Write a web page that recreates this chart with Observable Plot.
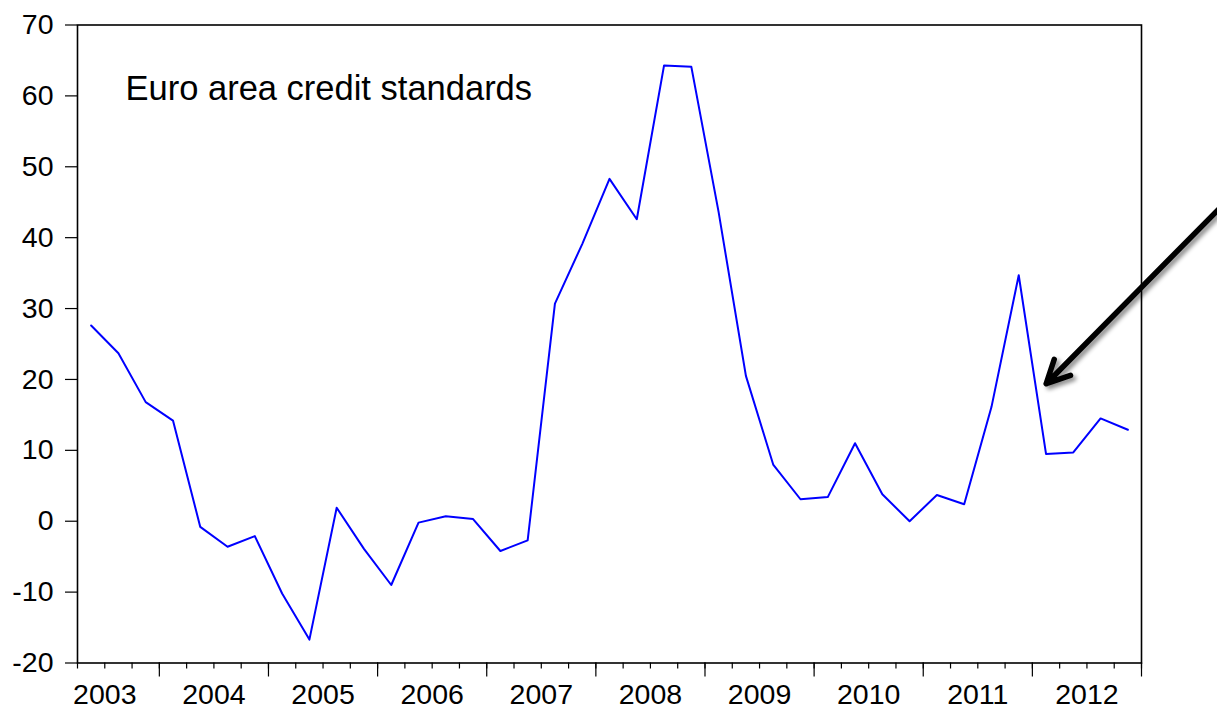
<!DOCTYPE html>
<html>
<head>
<meta charset="utf-8">
<script src="https://cdn.jsdelivr.net/npm/d3@7"></script>
<script src="https://cdn.jsdelivr.net/npm/@observablehq/plot@0.6"></script>
<style>
  html, body { margin: 0; padding: 0; background: #fff; }
  #chart svg [aria-label="arrow"] { filter: drop-shadow(3px 3px 2px rgba(0,0,0,0.45)); }
</style>
</head>
<body>
<div id="chart"></div>
<script>
// Quarterly observations, 2003Q2 – 2012Q4
const quarters = [
  "2003Q2","2003Q3","2003Q4",
  "2004Q1","2004Q2","2004Q3","2004Q4",
  "2005Q1","2005Q2","2005Q3","2005Q4",
  "2006Q1","2006Q2","2006Q3","2006Q4",
  "2007Q1","2007Q2","2007Q3","2007Q4",
  "2008Q1","2008Q2","2008Q3","2008Q4",
  "2009Q1","2009Q2","2009Q3","2009Q4",
  "2010Q1","2010Q2","2010Q3","2010Q4",
  "2011Q1","2011Q2","2011Q3","2011Q4",
  "2012Q1","2012Q2","2012Q3","2012Q4"
];
const values = [
  27.6, 23.7, 16.8,
  14.2, -0.8, -3.6, -2.1,
  -10.2, -16.7, 1.9, -3.9,
  -9.0, -0.2, 0.7, 0.3,
  -4.2, -2.7, 30.7, 39.1,
  48.3, 42.6, 64.3, 64.1,
  43.6, 20.5, 8.0, 3.1,
  3.4, 11.0, 3.8, 0.0,
  3.7, 2.4, 16.1, 34.7,
  9.5, 9.7, 14.5, 12.9
];
const yearLabels = [2003, 2004, 2005, 2006, 2007, 2008, 2009, 2010, 2011, 2012];
const yTicks = [-20, -10, 0, 10, 20, 30, 40, 50, 60, 70];
const titleText = "Euro area credit standards";
// Annotation arrow (tail -> head), in data units (fractional year, value)
const arrowX = [2013.77, 2012.127];
const arrowY = [45.0, 19.4];

// Build table: each quarter sits at the middle of its quarter interval
const qPos = q => +q.slice(0, 4) + (+q.slice(5) - 1) / 4 + 0.125;
const data = quarters.map((q, i) => ({t: qPos(q), v: values[i]}));
const xStart = qPos(quarters[0]) - 0.125;
const xEnd = qPos(quarters[quarters.length - 1]) + 0.125;
const quarterEdges = d3.range(0, quarters.length + 1).map(i => xStart + i * 0.25);
const yearEdges = quarterEdges.filter(e => Math.abs(e - Math.round(e)) < 1e-9);
const yearMids = yearLabels.map(y => y + 0.5);
const arrowData = [{x1: arrowX[0], y1: arrowY[0], x2: arrowX[1], y2: arrowY[1]}];

const chart = Plot.plot({
  width: 1217,
  height: 709,
  marginLeft: 77,
  marginRight: 76,
  marginTop: 24.5,
  marginBottom: 46.5,
  style: {fontFamily: "'Liberation Sans', Arial, sans-serif", background: "white", color: "black", overflow: "visible"},
  x: {type: "linear", domain: [xStart, xEnd], axis: null},
  y: {domain: [-20, 70], axis: null},
  marks: [
    Plot.axisY({ticks: yTicks, tickSize: 12, tickPadding: 12, fontSize: 28.5, label: null, tickFormat: d => String(d), strokeWidth: 1.2}),
    Plot.axisX({ticks: quarterEdges, tickSize: 6, tickFormat: () => "", label: null, strokeWidth: 1.2}),
    Plot.axisX({ticks: yearEdges, tickSize: 14, tickFormat: () => "", label: null, strokeWidth: 1.2}),
    Plot.axisX({ticks: yearMids, tickSize: 0, tickPadding: 21, fontSize: 28.5, label: null, tickFormat: (d, i) => String(yearLabels[i])}),
    Plot.frame({stroke: "black", strokeWidth: 1.6}),
    Plot.line(data, {x: "t", y: "v", stroke: "#0000ff", strokeWidth: 2}),
    Plot.text([titleText], {frameAnchor: "top-left", text: d => d, dx: 48, dy: 50.5, lineAnchor: "top", textAnchor: "start", fontSize: 34.5, fill: "black"}),
    Plot.arrow(arrowData, {x1: "x1", y1: "y1", x2: "x2", y2: "y2", stroke: "black", strokeWidth: 5.5, headLength: 7, headAngle: 53, insetStart: 0, insetEnd: 0})
  ]
});
document.getElementById("chart").appendChild(chart);
</script>
</body>
</html>
